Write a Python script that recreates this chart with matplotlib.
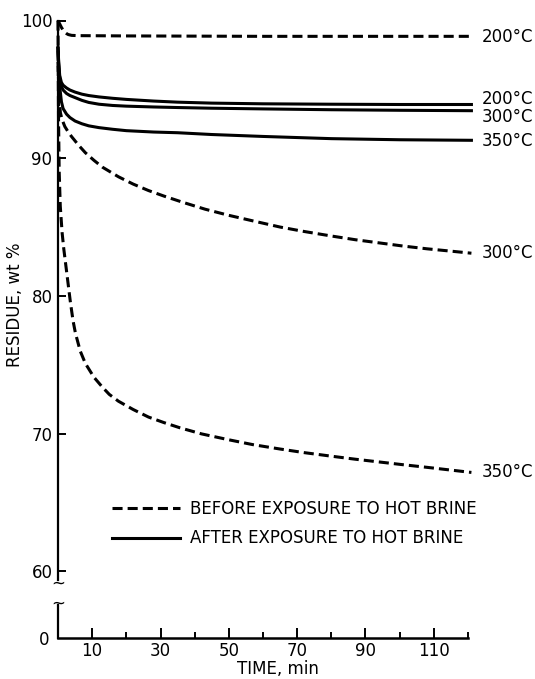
import matplotlib
matplotlib.use("Agg")
import matplotlib.pyplot as plt

# Data
# before exposure to hot brine (dashed)
t_before_200 = [0, 0.5, 1, 1.5, 2, 2.5, 3, 4, 6, 20, 60, 121]
r_before_200 = [100, 99.75, 99.5, 99.3, 99.15, 99.05, 98.98, 98.92, 98.9, 98.88, 98.85, 98.85]

t_before_300 = [0, 0.3, 0.7, 1.2, 2, 3, 4, 6, 8, 10.5, 13, 17.7, 22, 26.5, 31, 36.5,
                43, 50, 57, 65, 72, 80, 87, 94, 101, 108, 115, 121]
r_before_300 = [97, 94.5, 93.3, 92.8, 92.3, 91.9, 91.56, 90.95, 90.4, 89.85, 89.35, 88.65,
                88.12, 87.65, 87.25, 86.8, 86.3, 85.85, 85.45, 85.0, 84.68, 84.35, 84.08,
                83.85, 83.62, 83.42, 83.25, 83.1]

t_before_350 = [0, 0.15, 0.35, 0.67, 1.2, 1.7, 2.6, 3.6, 4.4, 5.1, 6.5, 8, 10.5, 12.9, 15,
                17.7, 22, 26.5, 31, 35.7, 42, 50, 57, 65, 72, 80, 87, 94, 101, 108, 115, 121]
r_before_350 = [100, 93, 89, 86.5, 84.6, 83.4, 81.6, 79.6, 78.2, 77.3, 76.0, 75.1, 74.1,
                73.4, 72.85, 72.35, 71.75, 71.2, 70.8, 70.42, 69.98, 69.55, 69.2, 68.88,
                68.62, 68.36, 68.14, 67.94, 67.74, 67.55, 67.35, 67.18]

# after exposure to hot brine (solid)
t_after = [0, 0.2, 0.5, 1, 1.5, 2.5, 3.5, 5, 7, 9, 12, 16, 20, 28, 35, 45, 60, 80, 100, 121]
r_after_200 = [98, 97, 96, 95.5, 95.3, 95.1, 94.95, 94.8, 94.65, 94.55, 94.45, 94.35,
               94.27, 94.15, 94.07, 94.0, 93.95, 93.92, 93.9, 93.9]
r_after_300 = [98, 96.8, 95.8, 95.2, 94.95, 94.7, 94.55, 94.4, 94.2, 94.05, 93.92, 93.83,
               93.78, 93.72, 93.68, 93.63, 93.58, 93.52, 93.48, 93.45]
r_after_350 = [98, 96.5, 95.2, 94.1, 93.6, 93.2, 92.95, 92.7, 92.5, 92.35, 92.22, 92.1,
               92.0, 91.9, 91.85, 91.72, 91.58, 91.42, 91.34, 91.3]

# end labels: (text, y position)
end_labels = [("200°C", 98.83), ("200°C", 94.3), ("300°C", 93.0),
              ("350°C", 91.25), ("300°C", 83.1), ("350°C", 67.2)]

plt.rcParams['font.family'] = ['DejaVu Sans']
plt.rcParams['font.size'] = 12

W_PX, H_PX = 535, 679
fig = plt.figure(figsize=(W_PX / 100, H_PX / 100), dpi=100)

left = 58 / W_PX
width = 410 / W_PX
# main axes: 100 at y=20.5 px, 13.77 px per unit
top_px, bot_px = 20.5, 580
ax = fig.add_axes([left, 1 - bot_px / H_PX, width, (bot_px - top_px) / H_PX])
ax2 = fig.add_axes([left, 1 - 638 / H_PX, width, (638 - 605) / H_PX])

lw = 2.2
dash = (3.3, 1.65)
ax.plot(t_before_200, r_before_200, color='black', lw=lw, dashes=dash, clip_on=False)
ax.plot(t_before_300, r_before_300, color='black', lw=lw, dashes=dash, clip_on=False)
ax.plot(t_before_350, r_before_350, color='black', lw=lw, dashes=dash, clip_on=False,
        label="BEFORE EXPOSURE TO HOT BRINE")
ax.plot(t_after, r_after_200, color='black', lw=lw, clip_on=False)
ax.plot(t_after, r_after_300, color='black', lw=lw, clip_on=False)
ax.plot(t_after, r_after_350, color='black', lw=lw, clip_on=False,
        label="AFTER EXPOSURE TO HOT BRINE")

ax.set_xlim(0, 120)
ax.set_ylim(100 - (bot_px - top_px) / 13.77, 100)
for s in ['top', 'right', 'bottom']:
    ax.spines[s].set_visible(False)
ax.spines['left'].set_linewidth(1.6)
ax.set_xticks([])
ax.set_yticks([60, 70, 80, 90, 100])
ax.tick_params(axis='y', direction='in', length=6, width=1.4, pad=4, labelsize=12)

for txt, y in end_labels:
    ax.text(124, y, txt, fontsize=12, ha='left', va='center', clip_on=False)

ax.legend(loc='upper left', bbox_to_anchor=(112 / W_PX, 1 - 500 / H_PX),
          bbox_transform=fig.transFigure, frameon=False, borderpad=0,
          borderaxespad=0, handlelength=4.1, handletextpad=0.6,
          labelspacing=0.68, fontsize=12)

# bottom strip with the zero and the time axis
ax2.set_xlim(0, 120)
ax2.set_ylim(0, 1)
for s in ['top', 'right']:
    ax2.spines[s].set_visible(False)
ax2.spines['left'].set_linewidth(1.6)
ax2.spines['bottom'].set_linewidth(1.8)
ax2.set_yticks([0])
ax2.tick_params(axis='y', length=0, pad=6, labelsize=12)
ax2.set_xticks([10, 30, 50, 70, 90, 110])
ax2.set_xticks([20, 40, 60, 80, 100, 120], minor=True)
ax2.tick_params(axis='x', which='major', direction='in', length=7, width=1.4, pad=3, labelsize=12)
ax2.tick_params(axis='x', which='minor', direction='in', length=4, width=1.4)

fig.text(278 / W_PX, 1 - 678 / H_PX, "TIME, min", ha='center', va='bottom', fontsize=12)

# axis break marks
fig.text(left, 1 - 584 / H_PX, "~", fontsize=12, ha='center', va='center')
fig.text(left, 1 - 604 / H_PX, "~", fontsize=12, ha='center', va='center')

fig.text(15 / W_PX, 1 - 305 / H_PX, "RESIDUE, wt %", rotation=90,
         ha='center', va='center', fontsize=12)

fig.savefig("out.png", dpi=100)
